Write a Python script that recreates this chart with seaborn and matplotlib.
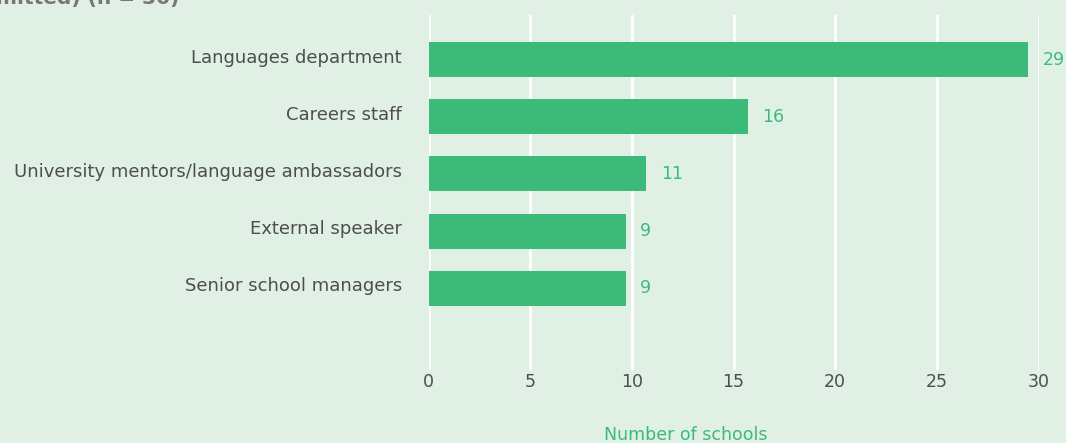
# Horizontal bar chart: who talks to pupils about languages

import matplotlib
matplotlib.use('Agg')
import matplotlib.pyplot as plt
import matplotlib.transforms as mtransforms
import seaborn as sns
import pandas as pd

categories = ['Languages department', 'Careers staff',
              'University mentors/language ambassadors',
              'External speaker', 'Senior school managers']
# bar lengths as drawn in the source, and the labels printed next to them
bar_lengths = [29.5, 15.7, 10.7, 9.7, 9.7]
value_labels = ['29', '16', '11', '9', '9']
x_ticks = [0, 5, 10, 15, 20, 25, 30]

BG = '#e0f0e5'
GREEN = '#3cba7a'
GREY = '#4d4d4d'

sns.set_style('white')
plt.rcParams['font.family'] = ['DejaVu Sans']

df = pd.DataFrame({'source': categories, 'schools': bar_lengths})

fig = plt.figure(figsize=(10.66, 4.43), dpi=100, facecolor=BG)
ax = fig.add_axes([428.5 / 1066, 1 - 370 / 443, 610 / 1066, 355 / 443])
ax.set_facecolor(BG)

sns.barplot(data=df, x='schools', y='source', color=GREEN, saturation=1,
            width=0.61, linewidth=0, ax=ax, zorder=3)

ax.set_xlim(0, 30)
ax.set_ylim(5.43, -0.78)
ax.set_xticks(x_ticks)
ax.grid(axis='x', color='white', linewidth=2, zorder=0)
ax.set_axisbelow(True)
for spine in ax.spines.values():
    spine.set_visible(False)
ax.tick_params(axis='both', length=0, labelcolor=GREY)
ax.tick_params(axis='y', pad=19, labelsize=13)
ax.tick_params(axis='x', pad=2, labelsize=12.5)
ax.set_xlabel('')
ax.set_ylabel('')

# category labels sit a little above the bar centres
shift = mtransforms.ScaledTranslation(0, 4 / 100, fig.dpi_scale_trans)
for lab in ax.get_yticklabels():
    lab.set_transform(lab.get_transform() + shift)

# value labels at the end of each bar
for i, (v, lab) in enumerate(zip(bar_lengths, value_labels)):
    ax.annotate(lab, (v, i), xytext=(10.5, 0), textcoords='offset points',
                va='center', ha='left', color=GREEN, fontsize=12.5,
                annotation_clip=False)

fig.text(686 / 1066, 1 - 435 / 443, 'Number of schools', color=GREEN,
         fontsize=12.5, ha='center', va='center')
# title is cut off at the top of the image
fig.text(-4 / 1066, 1 - 4 / 443, 'mitted) (n = 30)', color='#777777',
         fontsize=14.5, fontweight='bold', ha='left', va='baseline')

fig.savefig('out.png', dpi=100, facecolor=BG)
